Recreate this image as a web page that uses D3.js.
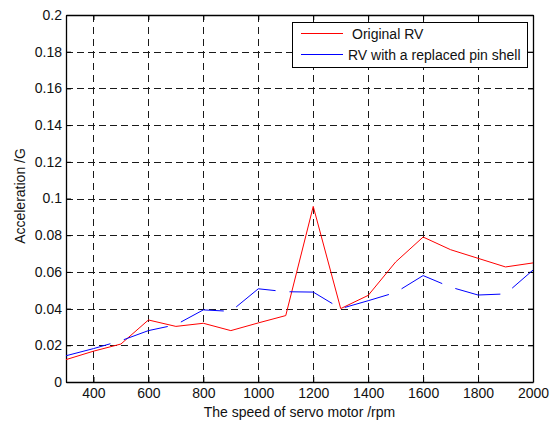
<!DOCTYPE html>
<html>
<head>
<meta charset="utf-8">
<script src="https://cdn.jsdelivr.net/npm/d3@7"></script>
<style>
  html, body { margin: 0; padding: 0; background: #fff; }
  svg { display: block; font-family: "Liberation Sans", Arial, sans-serif; }
</style>
</head>
<body>
<svg id="chart" width="553" height="423"></svg>
<script>
// Motor speed (rpm) at which acceleration was measured
const speeds = [300, 400, 500, 600, 700, 800, 900, 1000, 1100, 1200, 1300, 1400, 1500, 1600, 1700, 1800, 1900, 2000];
// Acceleration (G) of the original RV reducer
const originalRV = [0.0122, 0.0168, 0.0207, 0.0338, 0.0303, 0.0320, 0.0280, 0.0322, 0.0362, 0.0957, 0.0400, 0.0472, 0.0654, 0.0790, 0.0721, 0.0674, 0.0627, 0.0649];
// Acceleration (G) of the RV reducer with a replaced pin shell
const replacedRV = [0.0143, 0.0182, 0.0225, 0.0280, 0.0312, 0.0393, 0.0385, 0.0508, 0.0492, 0.0490, 0.0400, 0.0443, 0.0488, 0.0580, 0.0517, 0.0474, 0.0480, 0.0610];
const xTicks = [400, 600, 800, 1000, 1200, 1400, 1600, 1800, 2000];
const yTicks = [0, 0.02, 0.04, 0.06, 0.08, 0.1, 0.12, 0.14, 0.16, 0.18, 0.2];
const seriesNames = ["Original RV", "RV with a replaced pin shell"];

const svg = d3.select("#chart");
const L = 66, R = 533, T = 15, B = 382;
const FS = 14;

const x = d3.scaleLinear().domain([300, 2000]).range([L, R]);
const y = d3.scaleLinear().domain([0, 0.2]).range([B, T]);

// Grid
const grid = svg.append("g").attr("stroke", "#1a1a1a").attr("stroke-width", 1).attr("fill", "none");
grid.selectAll("line.v").data(xTicks.filter(d => d < 2000)).join("line")
  .attr("stroke-dasharray", "7,5")
  .attr("x1", d => Math.round(x(d)) + 0.5).attr("x2", d => Math.round(x(d)) + 0.5)
  .attr("y1", B).attr("y2", T);
grid.selectAll("line.h").data(yTicks.filter(d => d > 0 && d < 0.2)).join("line")
  .attr("stroke-dasharray", "7,4")
  .attr("x1", L).attr("x2", R)
  .attr("y1", d => Math.round(y(d)) + 0.5).attr("y2", d => Math.round(y(d)) + 0.5);

// Axes (ticks pointing inward, mirrored on top/right)
const fmtY = d => d === 0 ? "0" : String(+d.toFixed(2));
const axB = svg.append("g").attr("transform", `translate(0,${B})`)
  .call(d3.axisBottom(x).tickValues(xTicks).tickSizeInner(-5).tickSizeOuter(0).tickPadding(6).tickFormat(d3.format("d")));
const axT = svg.append("g").attr("transform", `translate(0,${T})`)
  .call(d3.axisTop(x).tickValues(xTicks).tickSizeInner(-5).tickSizeOuter(0).tickFormat(""));
const axL = svg.append("g").attr("transform", `translate(${L},0)`)
  .call(d3.axisLeft(y).tickValues(yTicks).tickSizeInner(-5).tickSizeOuter(0).tickPadding(4).tickFormat(fmtY));
const axR = svg.append("g").attr("transform", `translate(${R},0)`)
  .call(d3.axisRight(y).tickValues(yTicks).tickSizeInner(-5).tickSizeOuter(0).tickFormat(""));
[axB, axT, axL, axR].forEach(a => {
  a.selectAll("path.domain").attr("stroke", "#000").attr("stroke-width", 1.3);
  a.selectAll(".tick line").attr("stroke", "#000");
  a.selectAll("text").attr("font-size", FS).attr("fill", "#111")
    .attr("font-family", "'Liberation Sans', Arial, sans-serif");
});

// Series lines
const line = d3.line().x((d, i) => x(speeds[i])).y(d => y(d));
svg.append("path").datum(originalRV).attr("d", line)
  .attr("fill", "none").attr("stroke", "#ff0000").attr("stroke-width", 1);
svg.append("path").datum(replacedRV).attr("d", line)
  .attr("fill", "none").attr("stroke", "#0000ff").attr("stroke-width", 1)
  .attr("stroke-dasharray", "46,14");

// Axis titles
svg.append("text").attr("x", (L + R) / 2).attr("y", 417).attr("text-anchor", "middle")
  .attr("font-size", FS).attr("fill", "#111").text("The speed of servo motor /rpm");
svg.append("text").attr("transform", `translate(25,196) rotate(-90)`)
  .attr("text-anchor", "middle").attr("font-size", FS).attr("fill", "#111").text("Acceleration /G");

// Legend
const lg = svg.append("g");
lg.append("rect").attr("x", 292.5).attr("y", 22.5).attr("width", 235).attr("height", 45)
  .attr("fill", "#fff").attr("stroke", "#000").attr("stroke-width", 1);
const colors = ["#ff0000", "#0000ff"];
seriesNames.forEach((name, i) => {
  const ly = 33.5 + i * 21;
  lg.append("line").attr("x1", 301).attr("x2", 343).attr("y1", ly).attr("y2", ly)
    .attr("stroke", colors[i]).attr("stroke-width", 1);
  lg.append("text").attr("x", i === 0 ? 352 : 348).attr("y", ly + 5.5)
    .attr("font-size", FS).attr("fill", "#111").text(name);
});
</script>
</body>
</html>
